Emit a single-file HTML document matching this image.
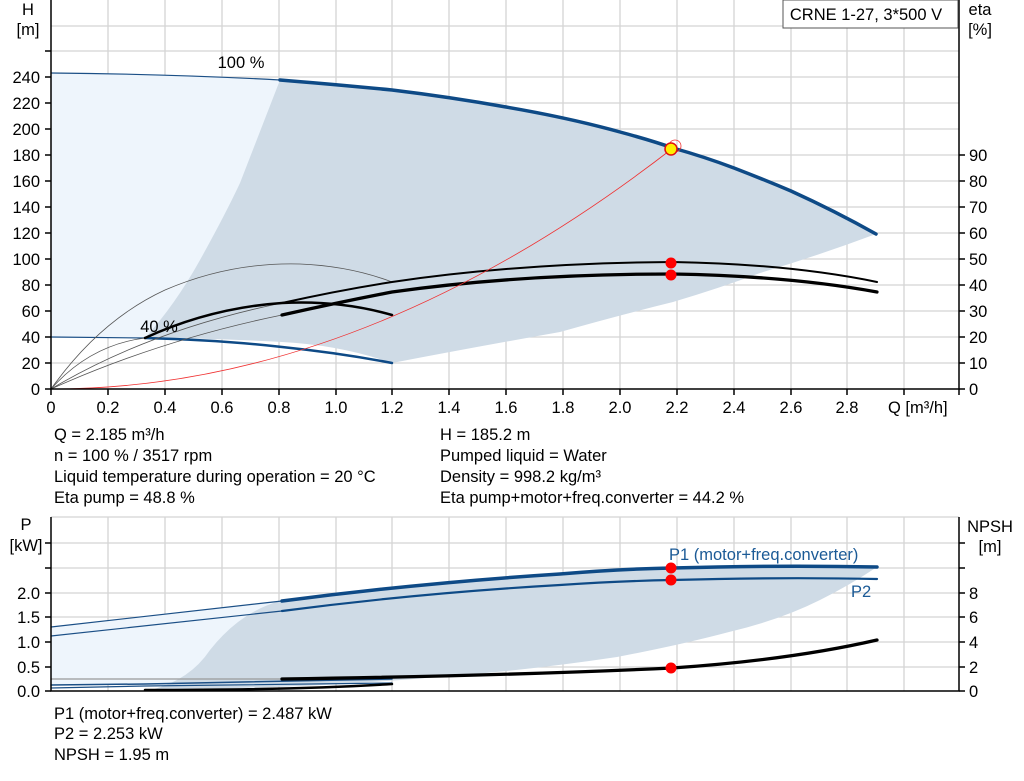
<!DOCTYPE html>
<html><head><meta charset="utf-8"><style>
html,body{margin:0;padding:0;background:#fff;}
svg{display:block;font-family:"Liberation Sans",sans-serif;}
</style></head><body>
<svg width="1024" height="781" viewBox="0 0 1024 781" xmlns="http://www.w3.org/2000/svg">
<g stroke="#d4d4d4" stroke-width="1.3" fill="none">
<path d="M108 0V389M165 0V389M222 0V389M279 0V389M336 0V389M392 0V389M449 0V389M506 0V389M563 0V389M620 0V389M677 0V389M734 0V389M791 0V389M847 0V389M904 0V389"/>
<path d="M51 363H959M51 337H959M51 311H959M51 285H959M51 259H959M51 233H959M51 207H959M51 181H959M51 155H959M51 129H959M51 103H959M51 77H959M51 51H959M51 26H959"/>
<path d="M108 517V691M165 517V691M222 517V691M279 517V691M336 517V691M392 517V691M449 517V691M506 517V691M563 517V691M620 517V691M677 517V691M734 517V691M791 517V691M847 517V691M904 517V691"/>
<path d="M51 667H959M51 642H959M51 617H959M51 593H959M51 568H959M51 543H959M51 517H959"/>
</g>
<!-- top shading -->
<path d="M51 73 Q170 74 280 80 L285 338 L51 338Z" fill="#eef5fc"/>
<path d="M280 80 Q330 84 392 90 Q450 97 506 107 Q570 118 620 132 Q650 140 673 148 Q705 157 734 168 Q765 180 791 191 Q835 211 876 234 Q820 255 760 273 Q720 288 673 302 Q620 315 560 332 Q470 348 392 363 Q340 345 282 342 Q210 338 145 338 Q175 305 200 260 Q225 215 240 183 Z" fill="#cfdbe6"/>
<!-- bottom shading -->
<path d="M51 627 L282 601 L285 685 L51 685Z" fill="#eef5fc"/>
<path d="M151 690 Q190 680 210 650 Q240 612 280 601 Q420 583 560 574 Q620 569 672 568 Q780 565 877 567 Q850 585 820 600 Q780 620 729 632 Q680 645 617 657 Q530 670 450 676 Q370 683 300 686 Q220 689 151 690Z" fill="#cfdbe6"/>
<!-- top curves -->
<g fill="none" stroke-linecap="round">
<path d="M51 73 Q170 74 280 80" stroke="#1b4f86" stroke-width="1.2"/>
<path d="M280 80 Q330 84 392 90 Q450 97 506 107 Q570 118 620 132 Q650 140 673 148 Q705 157 734 168 Q765 180 791 191 Q835 211 876 234" stroke="#0e4a86" stroke-width="3.5"/>
<path d="M51 337 L145 338" stroke="#1b4f86" stroke-width="1.2"/>
<path d="M145 338 Q220 340 282 347 Q340 353 392 363" stroke="#0e4a86" stroke-width="2.5"/>
<path d="M51 389 Q100 320 165 290 Q230 262 300 264 Q350 266 392 282" stroke="#555" stroke-width="0.8"/>
<path d="M51 389 Q90 345 145 338" stroke="#555" stroke-width="0.8"/>
<path d="M51 389 Q150 330 282 303" stroke="#555" stroke-width="0.8"/>
<path d="M51 389 Q160 340 282 315" stroke="#555" stroke-width="0.8"/>
<path d="M145 338 Q210 308 282 303 Q340 300 392 315" stroke="#000" stroke-width="2.5"/>
<path d="M282 303 Q340 290 392 282 Q520 263 673 262 Q790 264 877 282" stroke="#000" stroke-width="2"/>
<path d="M282 315 Q340 302 392 292 Q520 274 673 274 Q790 276 877 292" stroke="#000" stroke-width="3.3"/>
<path d="M51 389 Q362 389 673 148" stroke="#f03030" stroke-width="0.8"/>
</g>
<circle cx="675" cy="146" r="6" fill="none" stroke="#f03030" stroke-width="0.8"/>
<circle cx="671" cy="149" r="6" fill="#ffee00" stroke="#e01010" stroke-width="1.5"/>
<circle cx="671" cy="263" r="5.5" fill="#f00"/>
<circle cx="671" cy="275" r="5.5" fill="#f00"/>
<!-- bottom curves -->
<g fill="none" stroke-linecap="round">
<path d="M51 627 L282 601" stroke="#1b4f86" stroke-width="1.2"/>
<path d="M282 601 Q420 583 560 574 Q620 569 672 568 Q780 565 877 567" stroke="#0e4a86" stroke-width="3.5"/>
<path d="M51 636 L282 611" stroke="#1b4f86" stroke-width="1.2"/>
<path d="M282 611 Q420 593 560 585 Q620 581 672 580 Q780 577 877 579" stroke="#0e4a86" stroke-width="2.2"/>
<path d="M51 679 L392 679" stroke="#999" stroke-width="1.2"/>
<path d="M51 685 L145 684 Q270 681 392 679" stroke="#1b4f86" stroke-width="1.5"/>
<path d="M51 688 L145 686 Q270 684 392 683" stroke="#1b4f86" stroke-width="1.2"/>
<path d="M145 690 Q300 690 392 684" stroke="#000" stroke-width="2.5"/>
<path d="M282 679 Q500 676 672 668 Q790 660 877 640" stroke="#000" stroke-width="3.3"/>
</g>
<circle cx="671" cy="568" r="5.5" fill="#f00"/>
<circle cx="671" cy="580" r="5.5" fill="#f00"/>
<circle cx="671" cy="668" r="5.5" fill="#f00"/>
<!-- axes -->
<g stroke="#000" stroke-width="1.5" fill="none">
<path d="M51 0V389H959V0"/>
<path d="M51 517V691H959V517"/>
<path d="M45 389H51M45 363H51M45 337H51M45 311H51M45 285H51M45 259H51M45 233H51M45 207H51M45 181H51M45 155H51M45 129H51M45 103H51M45 77H51M45 51H51"/>
<path d="M959 389H965M959 363H965M959 337H965M959 311H965M959 285H965M959 259H965M959 233H965M959 207H965M959 181H965M959 155H965"/>
<path d="M51 389V395M108 389V395M165 389V395M222 389V395M279 389V395M336 389V395M392 389V395M449 389V395M506 389V395M563 389V395M620 389V395M677 389V395M734 389V395M791 389V395M847 389V395M904 389V395M959 389V395"/>
<path d="M45 691H51M45 667H51M45 642H51M45 617H51M45 593H51M45 568H51M45 543H51"/>
<path d="M959 691H965M959 667H965M959 642H965M959 617H965M959 593H965M959 568H965M959 543H965"/>
</g>
<rect x="783" y="0" width="175" height="28" fill="#fff" stroke="#555" stroke-width="1"/>
<g font-size="16.5" fill="#000">
<text x="866" y="20" text-anchor="middle">CRNE 1-27, 3*500 V</text>
<text x="28" y="15" text-anchor="middle">H</text>
<text x="28" y="35" text-anchor="middle">[m]</text>
<text x="980" y="15" text-anchor="middle">eta</text>
<text x="980" y="35" text-anchor="middle">[%]</text>
<text x="241" y="68" text-anchor="middle">100 %</text>
<text x="159" y="332" text-anchor="middle">40 %</text>
<g text-anchor="end">
<text x="40" y="395">0</text><text x="40" y="369">20</text><text x="40" y="343">40</text><text x="40" y="317">60</text><text x="40" y="291">80</text><text x="40" y="265">100</text><text x="40" y="239">120</text><text x="40" y="213">140</text><text x="40" y="187">160</text><text x="40" y="161">180</text><text x="40" y="135">200</text><text x="40" y="109">220</text><text x="40" y="83">240</text>
</g>
<g>
<text x="969" y="395">0</text><text x="969" y="369">10</text><text x="969" y="343">20</text><text x="969" y="317">30</text><text x="969" y="291">40</text><text x="969" y="265">50</text><text x="969" y="239">60</text><text x="969" y="213">70</text><text x="969" y="187">80</text><text x="969" y="161">90</text>
</g>
<g text-anchor="middle">
<text x="51" y="413">0</text><text x="108" y="413">0.2</text><text x="165" y="413">0.4</text><text x="222" y="413">0.6</text><text x="279" y="413">0.8</text><text x="336" y="413">1.0</text><text x="392" y="413">1.2</text><text x="449" y="413">1.4</text><text x="506" y="413">1.6</text><text x="563" y="413">1.8</text><text x="620" y="413">2.0</text><text x="677" y="413">2.2</text><text x="734" y="413">2.4</text><text x="791" y="413">2.6</text><text x="847" y="413">2.8</text>
</g>
<text x="888" y="413">Q [m³/h]</text>
<text x="54" y="440">Q = 2.185 m³/h</text>
<text x="54" y="461">n = 100 % / 3517 rpm</text>
<text x="54" y="482">Liquid temperature during operation = 20 °C</text>
<text x="54" y="503">Eta pump = 48.8 %</text>
<text x="440" y="440">H = 185.2 m</text>
<text x="440" y="461">Pumped liquid = Water</text>
<text x="440" y="482">Density = 998.2 kg/m³</text>
<text x="440" y="503">Eta pump+motor+freq.converter = 44.2 %</text>
<text x="26" y="530" text-anchor="middle">P</text>
<text x="26" y="551" text-anchor="middle">[kW]</text>
<text x="990" y="532" text-anchor="middle">NPSH</text>
<text x="990" y="552" text-anchor="middle">[m]</text>
<g text-anchor="end">
<text x="40" y="697">0.0</text><text x="40" y="673">0.5</text><text x="40" y="648">1.0</text><text x="40" y="623">1.5</text><text x="40" y="599">2.0</text>
</g>
<g>
<text x="969" y="697">0</text><text x="969" y="673">2</text><text x="969" y="648">4</text><text x="969" y="623">6</text><text x="969" y="599">8</text>
</g>
<text x="669" y="560" fill="#1b5a96">P1 (motor+freq.converter)</text>
<text x="851" y="597" fill="#1b5a96">P2</text>
<text x="54" y="719">P1 (motor+freq.converter) = 2.487 kW</text>
<text x="54" y="739">P2 = 2.253 kW</text>
<text x="54" y="760">NPSH = 1.95 m</text>
</g>
</svg>
</body></html>
